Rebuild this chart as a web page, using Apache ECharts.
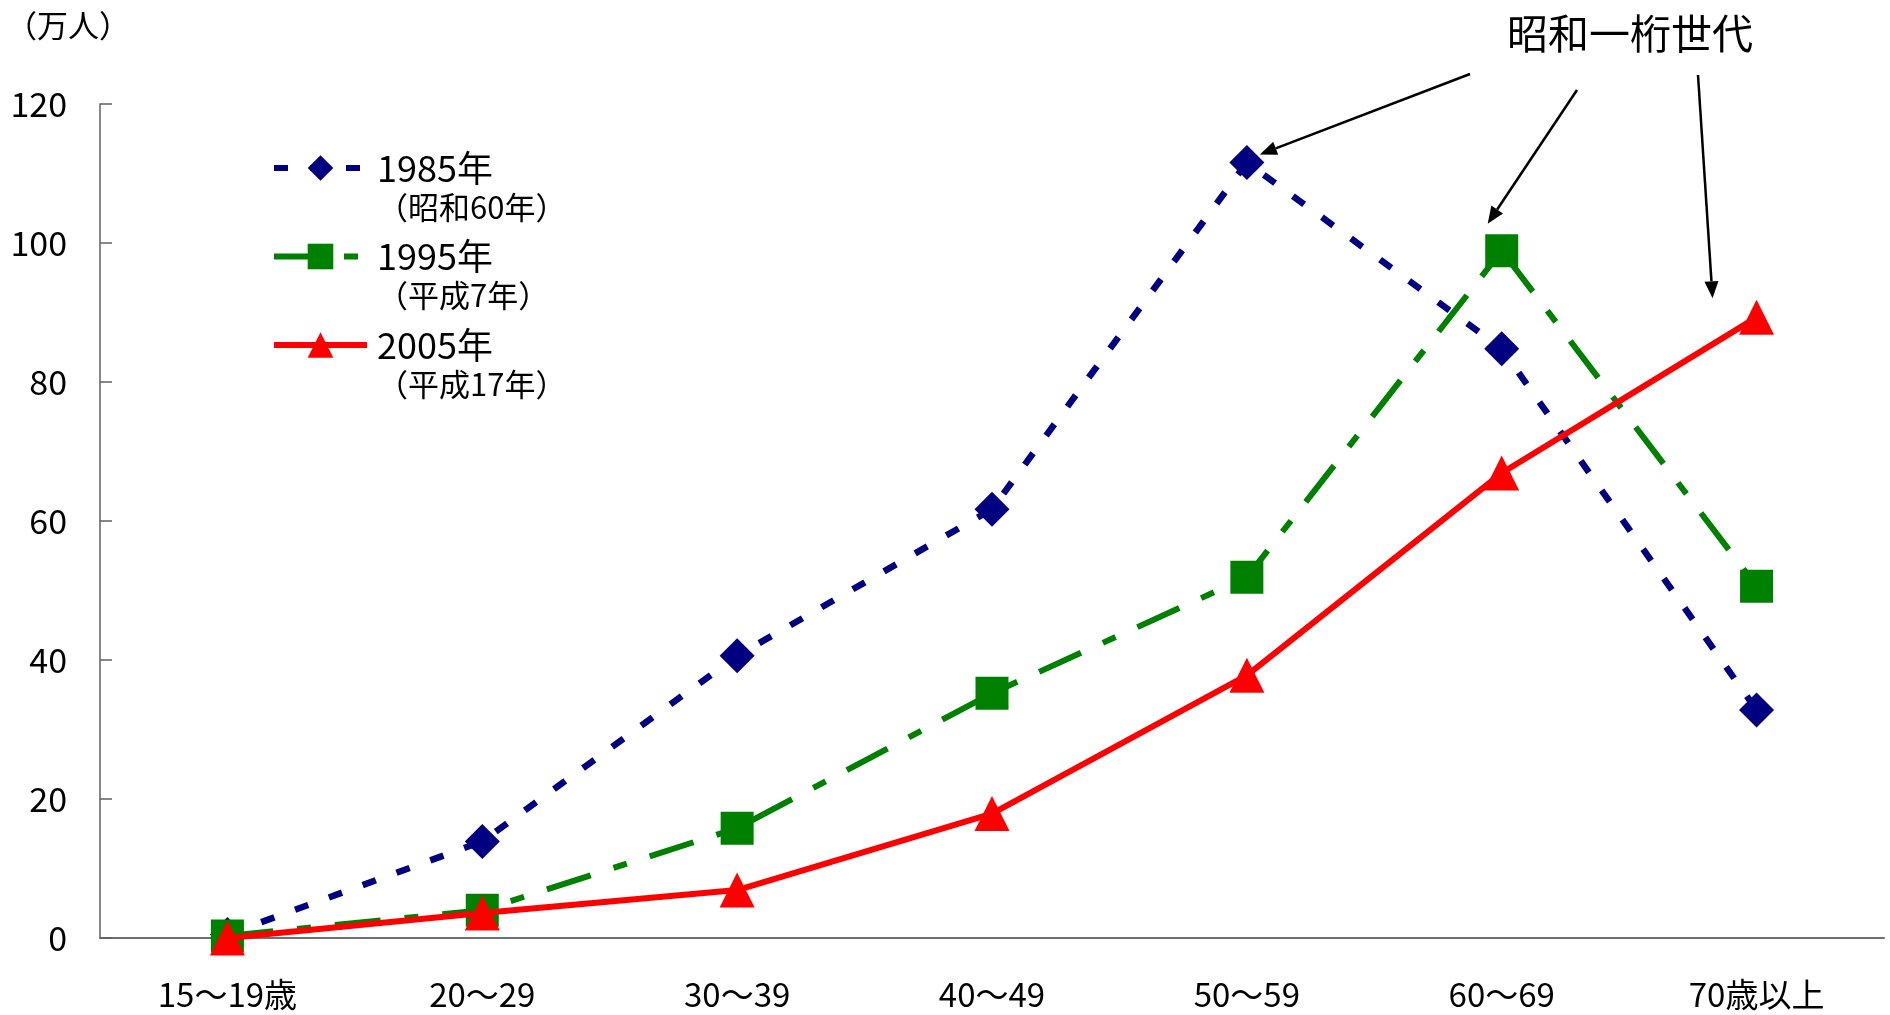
<!DOCTYPE html>
<html>
<head>
<meta charset="utf-8">
<script src="https://cdn.jsdelivr.net/npm/echarts@6/dist/echarts.min.js"></script>
<style>
  html, body { margin: 0; padding: 0; background: #ffffff; }
  #chart { width: 1890px; height: 1015px; }
</style>
</head>
<body>
<div id="chart"></div>
<script>
// Age groups on the category axis
const ageGroups = ['15～19歳', '20～29', '30～39', '40～49', '50～59', '60～69', '70歳以上'];

// Legend names and their era-year captions
const yearLabels = ['1985年', '1995年', '2005年'];
const eraLabels = ['（昭和60年）', '（平成7年）', '（平成17年）'];

// Number of people (万人) by age group
const people1985 = [0.5, 13.9, 40.6, 61.7, 111.6, 84.8, 32.8];
const people1995 = [0.3, 4.0, 15.8, 35.2, 51.9, 98.9, 50.6];
const people2005 = [0.0, 3.6, 6.9, 17.9, 37.8, 66.9, 89.3];

// Value axis range
const yMin = 0;
const yMax = 120;
const yStep = 20;

// Callout text and the points it points at: [seriesIndex, dataIndex]
const calloutText = '昭和一桁世代';
const calloutTargets = [[0, 4], [1, 5], [2, 6]];

const JP = "'Noto Sans CJK JP', 'Noto Sans', sans-serif";

const chart = echarts.init(document.getElementById('chart'), null, { renderer: 'canvas' });

const option = {
  animation: false,
  backgroundColor: '#ffffff',
  textStyle: { fontFamily: JP, color: '#000000' },
  grid: { left: 100, right: 6, top: 104, bottom: 77, containLabel: false },
  legend: {
    orient: 'vertical',
    left: 271,
    top: 150,
    padding: 0,
    itemWidth: 93,
    itemHeight: 32,
    itemGap: 16,
    selectedMode: false,
    data: yearLabels,
    lineStyle: { width: 6 },
    formatter: function (name) {
      const i = yearLabels.indexOf(name);
      return '{a|' + name + '}\n{b|' + eraLabels[i] + '}';
    },
    textStyle: {
      padding: [39, 0, 0, 5],
      rich: {
        a: { fontFamily: JP, fontSize: 36, lineHeight: 39, color: '#000' },
        b: { fontFamily: JP, fontSize: 31, lineHeight: 39, color: '#000' }
      }
    }
  },
  xAxis: {
    type: 'category',
    data: ageGroups,
    boundaryGap: true,
    axisLine: { lineStyle: { color: '#707070', width: 2 } },
    axisTick: { inside: true, length: 10, lineStyle: { color: '#707070', width: 1 } },
    axisLabel: { fontFamily: JP, fontSize: 33, color: '#000', margin: 40 },
    splitLine: { show: false }
  },
  yAxis: {
    type: 'value',
    min: yMin,
    max: yMax,
    interval: yStep,
    name: '（万人）',
    nameLocation: 'end',
    nameGap: 63,
    nameTextStyle: { fontFamily: JP, fontSize: 31, color: '#000', align: 'center', padding: [0, 64, 0, 0] },
    axisLine: { show: true, lineStyle: { color: '#606060', width: 1.5 } },
    axisTick: { show: true, inside: true, length: 12, lineStyle: { color: '#606060', width: 1.5 } },
    axisLabel: { fontFamily: "'Liberation Sans Narrow', 'Noto Sans CJK JP', sans-serif", fontSize: 34, color: '#000', margin: 33 },
    splitLine: { show: false }
  },
  series: [
    {
      name: yearLabels[0],
      type: 'line',
      data: people1985,
      color: '#000080',
      symbol: 'diamond',
      symbolSize: 35,
      lineStyle: { color: '#000080', width: 6.5, type: [14, 22], cap: 'butt' },
      itemStyle: { color: '#000080' },
      emphasis: { disabled: true },
      z: 2
    },
    {
      name: yearLabels[1],
      type: 'line',
      data: people1995,
      color: '#008000',
      symbol: 'rect',
      symbolSize: 33,
      lineStyle: { color: '#008000', width: 6, type: [46, 24, 14, 24], cap: 'butt' },
      itemStyle: { color: '#008000' },
      emphasis: { disabled: true },
      z: 3
    },
    {
      name: yearLabels[2],
      type: 'line',
      data: people2005,
      color: '#ff0000',
      symbol: 'triangle',
      symbolSize: 35,
      lineStyle: { color: '#ff0000', width: 6, type: 'solid' },
      itemStyle: { color: '#ff0000' },
      emphasis: { disabled: true },
      z: 4
    }
  ]
};

chart.setOption(option);

// Callout: label plus arrows whose heads sit just off the target markers
const seriesData = [people1985, people1995, people2005];
const labelPos = [1630, 33];
const tailOffsets = [[-160, 41], [-53, 57], [68, 42]];
const headOffsets = [[13, -8], [-14, -27], [-44, -19]];

function arrow(x1, y1, x2, y2) {
  const ang = Math.atan2(y2 - y1, x2 - x1);
  const len = 17, half = 7;
  const bx = x2 - len * Math.cos(ang), by = y2 - len * Math.sin(ang);
  const px = -Math.sin(ang) * half, py = Math.cos(ang) * half;
  return [
    { type: 'line', shape: { x1: x1, y1: y1, x2: bx, y2: by }, style: { stroke: '#000', lineWidth: 2.5 }, z: 10 },
    { type: 'polygon', shape: { points: [[x2, y2], [bx + px, by + py], [bx - px, by - py]] }, style: { fill: '#000' }, z: 10 }
  ];
}

const graphics = [{
  type: 'text',
  x: labelPos[0],
  y: labelPos[1],
  style: { text: calloutText, fontFamily: JP, fontSize: 41, fill: '#000', align: 'center', verticalAlign: 'middle' },
  z: 10
}];
calloutTargets.forEach(function (t, k) {
  const s = t[0], i = t[1];
  const p = chart.convertToPixel({ seriesIndex: s }, [i, seriesData[s][i]]);
  const hx = p[0] + headOffsets[k][0], hy = p[1] + headOffsets[k][1];
  const tx = labelPos[0] + tailOffsets[k][0], ty = labelPos[1] + tailOffsets[k][1];
  arrow(tx, ty, hx, hy).forEach(function (g) { graphics.push(g); });
});

chart.setOption({ graphic: graphics });
</script>
</body>
</html>
